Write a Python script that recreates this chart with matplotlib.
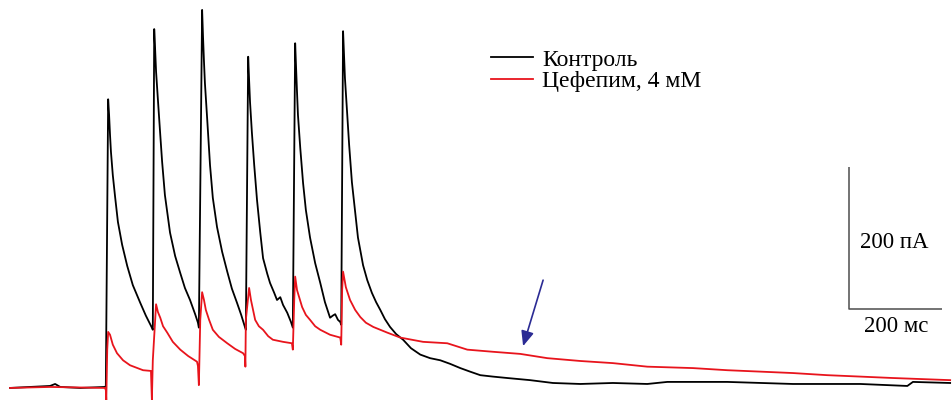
import matplotlib
matplotlib.use("Agg")
import matplotlib.pyplot as plt

#####################################################
# traces (time in ms, current in pA)
#####################################################

control_t = [0, 43, 86, 97, 108, 151, 204, 206,
             211, 213, 215, 217, 221, 226, 232, 241, 252, 264, 280, 292, 305,
             307,
             310, 312, 314, 318, 323, 327, 333, 344, 355, 366, 376, 387, 398, 404,
             406,
             413, 415, 417, 419, 424, 430, 436, 445, 456, 467, 477, 488, 497, 505,
             507,
             512, 514, 516, 520, 525, 531, 538, 544, 553, 559, 568, 574, 581, 587,
             596, 604, 608,
             613, 615, 617, 619, 624, 630, 636, 645, 656, 667, 677, 688, 694, 699,
             705, 710, 712,
             716, 718, 720, 725, 729, 735, 742, 748, 759, 768, 778, 787, 796, 806,
             817, 830, 845, 862, 882, 903, 925, 946, 968, 989, 1011, 1038, 1069,
             1118, 1167, 1226, 1296, 1370, 1413, 1542, 1683, 1828, 1929, 1941, 2021]
control_i = [0, 1.4, 2.8, 5.6, 1.4, 0, 1.4, 2.8,
             407, 385, 357, 333, 300, 269, 234, 202, 172, 145, 120, 102, 85,
             82,
             506, 477, 446, 406, 357, 319, 272, 219, 186, 162, 141, 124, 104, 92,
             85,
             533, 494, 460, 430, 378, 314, 268, 227, 192, 164, 140, 120, 103, 86,
             82,
             467, 434, 403, 360, 314, 265, 219, 183, 161, 148, 134, 124, 128, 117,
             106, 93, 85,
             486, 451, 417, 385, 338, 289, 251, 212, 176, 148, 121, 99, 102, 104,
             96, 93, 89,
             503, 470, 437, 385, 343, 290, 248, 212, 173, 152, 134, 121, 110, 97,
             86, 76, 68, 56, 47, 42, 39, 34, 28, 23, 18, 16, 14,
             11, 7, 5.6, 7, 5.6, 8.5, 8.5, 5.6, 5.6, 2.8, 8.5, 7]

cefepime_t = [0, 86, 204, 206, 207, 209, 211, 215, 221, 230, 243, 258, 286, 303,
              305, 307, 314, 318, 323, 329, 338, 350, 366, 383, 402, 404,
              406, 409, 413, 417, 421, 428, 436, 449, 467, 484, 501, 505,
              506, 507, 514, 518, 527, 535, 544, 555, 565, 587, 606,
              608, 611, 613, 617, 628, 636, 645, 656, 667, 688, 710,
              712, 714, 716, 722, 731, 742, 753, 765, 781, 811, 839, 888, 940, 983,
              1038, 1097, 1155, 1226, 1296, 1370, 1468, 1542, 1613, 1683,
              1757, 1828, 1898, 2021]
cefepime_i = [0, 1.4, 0, -2.8, -17, 54, 79, 75, 61, 49, 39, 32, 25, 24,
              -17, 39, 118, 107, 99, 87, 78, 65, 54, 45, 37, 31,
              4, 96, 135, 124, 110, 96, 82, 72, 63, 55, 49, 45,
              30, 96, 141, 124, 96, 87, 82, 73, 68, 65, 63,
              54, 124, 157, 138, 114, 103, 96, 87, 82, 75, 71,
              61, 138, 164, 142, 124, 110, 100, 92, 86, 78, 71, 65, 63, 54,
              51, 48, 42, 38, 35, 30, 28, 25, 23, 21,
              18, 16, 14, 11]

labels = ["Контроль", "Цефепим, 4 мМ"]

# scale bars
bar_ms = 200
bar_pa = 200
bar_t0 = 1804
bar_i0 = 111

# arrow marking the slow red component
arrow_tip = (1103, 59)
arrow_tail = (1146, 152)

#####################################################
# plot
#####################################################

plt.rcParams["font.family"] = ["Liberation Serif", "DejaVu Serif"]

fig = plt.figure(figsize=(9.52, 4.0), dpi=100)
ax = fig.add_axes([0, 0, 1, 1])

ax.plot(control_t, control_i, color="black", linewidth=1.3, label=labels[0])
ax.plot(cefepime_t, cefepime_i, color="#e8141c", linewidth=1.3, label=labels[1])

ax.plot([bar_t0, bar_t0, bar_t0 + bar_ms],
        [bar_i0 + bar_pa, bar_i0, bar_i0],
        color="#4d4d4d", linewidth=1.1, solid_capstyle="butt")
ax.text(bar_t0 + 24, bar_i0 + bar_pa * 0.47, f"{bar_pa} пА",
        fontsize=16.5, va="center", ha="left")
ax.text(bar_t0 + bar_ms / 2, bar_i0 - 25, f"{bar_ms} мс",
        fontsize=16.5, va="center", ha="center")

ax.annotate("", xy=arrow_tip, xytext=arrow_tail,
            arrowprops=dict(arrowstyle="-|>,head_length=0.75,head_width=0.32",
                            color="#2b2b94", linewidth=1.2, mutation_scale=12,
                            shrinkA=0, shrinkB=0))

ax.legend(loc="upper left", bbox_to_anchor=(0.516, 0.877), frameon=False,
          fontsize=17, handlelength=1.75, handletextpad=0.4,
          labelspacing=0.0, borderpad=0, borderaxespad=0)

ax.set_xlim(-21.5, 2025)
ax.set_ylim(-17, 547)
ax.axis("off")

plt.savefig("out.png", dpi=100)
plt.close()
